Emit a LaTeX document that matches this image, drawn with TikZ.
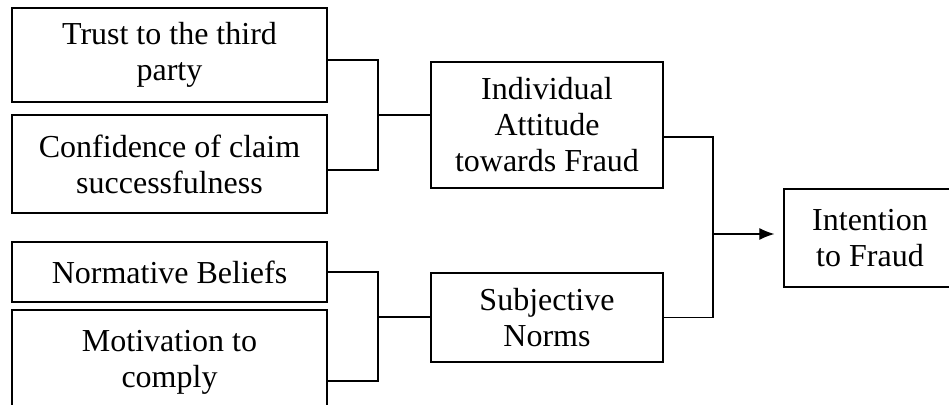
\documentclass[tikz,border=0pt]{standalone}
\usepackage{fontspec}
\setmainfont{Liberation Serif}
\usetikzlibrary{arrows.meta, calc, positioning}
\tikzset
{%
box/.style={draw, line width=0.65pt, align=center, inner sep=0pt, font=\fontsize{16}{18}\selectfont},
factor/.style={box, minimum width=157.5pt},
construct/.style={box, minimum width=116pt},
link/.style={line width=0.55pt}
}
\begin{document}
\begin{tikzpicture}[x=0.5pt, y=-0.5pt]
	\useasboundingbox (0,0) rectangle (949,405);
	\clip (0,0) rectangle (949,405);
	
		% FIRST COLUMN
		\node[factor, minimum height=47pt] (trust) at (169.5, 55) {Trust to the third\\party};
		\node[factor, minimum height=49pt] (conf) at (169.5, 164) {Confidence of claim\\successfulness};
		\node[factor, minimum height=30pt] (norm) at (169.5, 272) {Normative Beliefs};
		\node[factor, minimum height=52pt] (motiv) at (169.5, 362) {Motivation to\\comply};
		
		% SECOND COLUMN
		\node[construct, minimum height=63pt] (indiv) at (547, 125) {Individual\\Attitude\\towards Fraud};
		\node[construct, minimum height=44.5pt] (subj) at (547, 317.5) {Subjective\\Norms};
		
		% THIRD COLUMN
		\node[box, minimum width=86pt, minimum height=49pt] (intent) at (870, 238) {Intention\\to Fraud};
		
		\coordinate (j1) at (378, 115);
		\coordinate (j2) at (378, 317);
		\coordinate (j3) at (713, 234);
		
		\draw[link] ($(trust.east)+(0,5)$) -| (j1) |- ($(conf.east)+(0,6)$);
		\draw[link] (j1) -- (j1 -| indiv.west);
		\draw[link] (norm.east) -| (j2) |- ($(motiv.east)+(0,19)$);
		\draw[link] (j2) -- (j2 -| subj.west);
		\draw[link] ($(indiv.east)+(0,12)$) -| (j3) |- (subj.east);
		\draw[link, -{Latex[length=7.5pt, width=6pt]}, shorten >=4.5pt] (j3) -- (j3 -| intent.west);
	\end{tikzpicture}
\end{document}
